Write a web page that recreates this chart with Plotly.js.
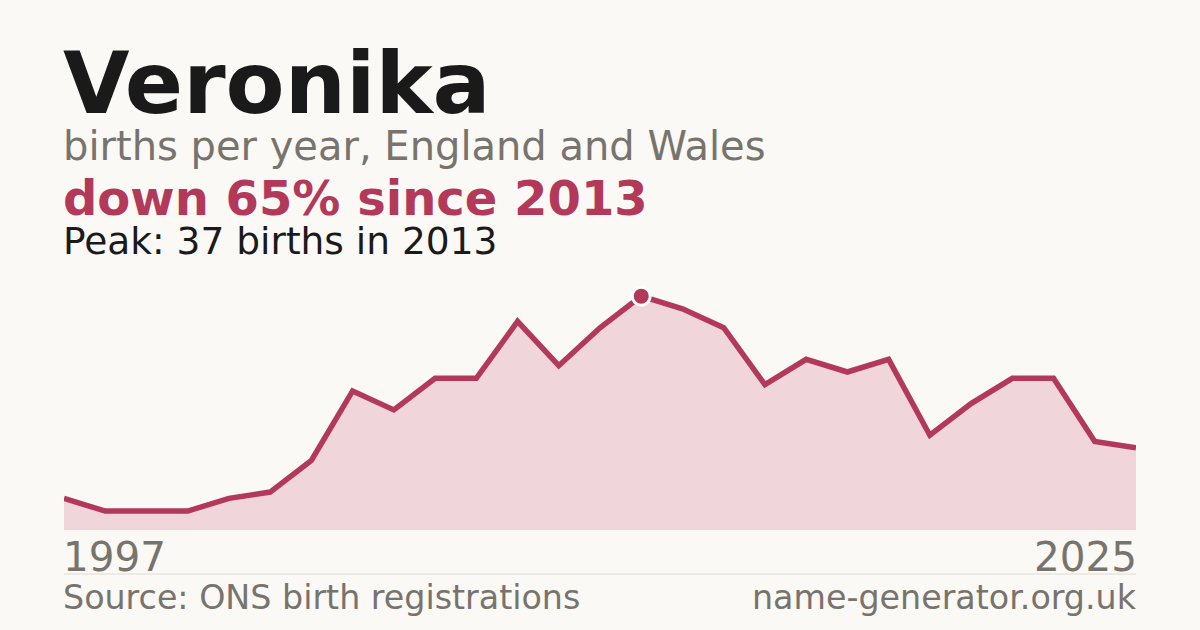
<!DOCTYPE html>
<html>
<head>
<meta charset="utf-8">
<script src="https://cdn.plot.ly/plotly-3.0.1.min.js"></script>
<style>
  html, body { margin: 0; padding: 0; background: #faf9f5; }
  #chart { width: 1200px; height: 630px; }
</style>
</head>
<body>
<div id="chart"></div>
<script>
// years plotted (two early years have no published count)
const years = ['1997', '1998', '2000', '2001', '2003', '2004', '2005', '2006', '2007',
  '2008', '2009', '2010', '2011', '2012', '2013', '2014', '2015', '2016', '2017',
  '2018', '2019', '2020', '2021', '2022', '2023', '2024', '2025'];
const births = [5, 3, 3, 3, 5, 6, 11, 22, 19, 24, 24, 33, 26, 32, 37, 35, 32, 23, 27,
  25, 27, 15, 20, 24, 24, 14, 13];
const peakYear = '2013';
const peakValue = 37;

const W = 1200, H = 630;
const plotTop = 280, plotBottom = 530, plotLeft = 64, plotRight = 1136;
const red = '#b3395a';
const grey = '#78736c';
const ink = '#1a1a1a';
const font = 'DejaVu Sans';

// pixel row -> paper y
const py = p => (plotBottom - p) / (plotBottom - plotTop);

const areaTrace = {
  x: years,
  y: births,
  type: 'scatter',
  mode: 'lines',
  fill: 'tozeroy',
  fillcolor: '#f0d5da',
  line: { color: red, width: 5.5 },
  hoverinfo: 'skip',
  showlegend: false
};

const peakTrace = {
  x: [peakYear],
  y: [peakValue],
  type: 'scatter',
  mode: 'markers',
  marker: { color: red, size: 18, line: { color: '#ffffff', width: 3 } },
  hoverinfo: 'skip',
  showlegend: false
};

// text placed by its baseline (in pixels)
const txt = (text, x, xref, xanchor, baseline, size, color, bold) => ({
  text: bold ? '<b>' + text + '</b>' : text,
  x: x, xref: xref, xanchor: xanchor,
  xshift: xanchor === 'left' ? -2 : 2,
  y: py(baseline - 0.346 * size), yref: 'paper', yanchor: 'middle',
  showarrow: false,
  borderpad: 0,
  font: { family: font, size: size, color: color }
});

const last = years.length - 1;
const annotations = [
  txt('Veronika', 0, 'paper', 'left', 113, 86, ink, true),
  txt('births per year, England and Wales', 0, 'paper', 'left', 160, 40, grey, false),
  txt('down 65% since 2013', 0, 'paper', 'left', 215, 48, red, true),
  txt('Peak: ' + peakValue + ' births in ' + peakYear, 0, 'paper', 'left', 254, 37.5, ink, false),
  txt(years[0], 0, 'x', 'left', 571, 40.5, grey, false),
  txt(years[last], last, 'x', 'right', 571, 40.5, grey, false),
  txt('Source: ONS birth registrations', 0, 'paper', 'left', 609, 33.3, grey, false),
  txt('name-generator.org.uk', 1, 'paper', 'right', 609, 33.3, grey, false)
];

const layout = {
  width: W,
  height: H,
  margin: { l: plotLeft, r: W - plotRight, t: plotTop, b: H - plotBottom },
  paper_bgcolor: '#faf9f5',
  plot_bgcolor: '#faf9f5',
  font: { family: font },
  xaxis: {
    type: 'category',
    range: [0, last],
    showgrid: false, zeroline: false, showline: false, showticklabels: false, ticks: ''
  },
  yaxis: {
    range: [0, (plotBottom - plotTop) / 6.32],
    showgrid: false, zeroline: false, showline: false, showticklabels: false, ticks: ''
  },
  shapes: [{
    type: 'line', xref: 'paper', yref: 'paper',
    x0: 0, x1: 1, y0: py(574), y1: py(574),
    line: { color: '#dddad3', width: 1 }
  }],
  annotations: annotations
};

Plotly.newPlot('chart', [areaTrace, peakTrace], layout, { displayModeBar: false, staticPlot: true });
</script>
</body>
</html>
